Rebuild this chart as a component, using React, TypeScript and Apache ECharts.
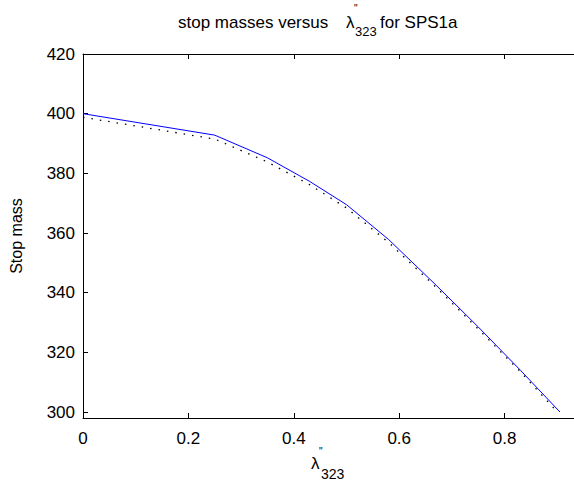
import React, { useEffect, useRef } from "react";
import * as echarts from "echarts";

const lambdaBlue = [0, 0.25, 0.35, 0.43, 0.5, 0.58, 0.67, 0.75, 0.83, 0.905];
const massBlue = [400, 392.8, 385.2, 377.3, 369.5, 357.8, 342.5, 328.5, 314, 300];
const lambdaDot = [0, 0.25, 0.35, 0.43, 0.5, 0.58, 0.67, 0.75, 0.83, 0.9];
const massDot = [398.8, 391.5, 383.8, 376.2, 368.4, 356.8, 341.8, 327.8, 313.5, 300];
const xTickLabels = [0, 0.2, 0.4, 0.6, 0.8];
const xTicks = [0, 0.2, 0.4, 0.6, 0.8];
const yTicks = [300, 320, 340, 360, 380, 400, 420];

const FONT = "'Liberation Sans', Arial, Helvetica, sans-serif";

export default function App() {
  const ref = useRef<HTMLDivElement>(null);
  useEffect(() => {
    if (!ref.current) return;
    const chart = echarts.init(ref.current, undefined, { renderer: "svg" });
    const axisCommon = {
      axisLine: { show: true, lineStyle: { color: "#000", width: 1 } },
      splitLine: { show: false },
    };
    chart.setOption({
      animation: false,
      backgroundColor: "#fff",
      textStyle: { fontFamily: FONT },
      grid: { left: 77, top: 54, right: 0, height: 364, containLabel: false },
      xAxis: [
        {
          type: "value",
          min: 0,
          max: 0.9316,
          position: "bottom",
          ...axisCommon,
          axisTick: { show: true, inside: true, length: 5, customValues: xTicks, lineStyle: { color: "#000" } },
          axisLabel: {
            customValues: xTickLabels,
            color: "#000",
            fontSize: 17,
            fontFamily: FONT,
            margin: 12,
            formatter: (v: number) => String(v),
          },
        },
        {
          type: "value",
          min: 0,
          max: 0.9316,
          position: "top",
          ...axisCommon,
          axisTick: { show: true, inside: true, length: 5, customValues: xTicks, lineStyle: { color: "#000" } },
          axisLabel: { show: false },
        },
      ],
      yAxis: [
        {
          type: "value",
          min: 298,
          max: 420,
          position: "left",
          ...axisCommon,
          axisTick: { show: true, inside: true, length: 5, customValues: yTicks, lineStyle: { color: "#000" } },
          axisLabel: {
            customValues: yTicks,
            color: "#000",
            fontSize: 17,
            fontFamily: FONT,
            margin: 8,
          },
          name: "Stop mass",
          nameLocation: "middle",
          nameGap: 59,
          nameTextStyle: { color: "#000", fontSize: 16, fontFamily: FONT },
        },
      ],
      graphic: [
        { type: "text", x: 178, y: 14, style: { text: "stop masses versus", fontSize: 17, fontFamily: FONT, fill: "#000" } },
        { type: "text", x: 346, y: 14, style: { text: "λ", fontSize: 17, fontFamily: FONT, fill: "#000" } },
        { type: "text", x: 354, y: 3, style: { text: "\"", fontSize: 10, fontFamily: FONT, fill: "#000" } },
        { type: "text", x: 355, y: 25, style: { text: "323", fontSize: 13, fontFamily: FONT, fill: "#000" } },
        { type: "text", x: 380, y: 14, style: { text: "for SPS1a", fontSize: 17, fontFamily: FONT, fill: "#000" } },
        { type: "text", x: 311, y: 455, style: { text: "λ", fontSize: 17, fontFamily: FONT, fill: "#000" } },
        { type: "text", x: 319, y: 446, style: { text: "\"", fontSize: 10, fontFamily: FONT, fill: "#000" } },
        { type: "text", x: 321, y: 467, style: { text: "323", fontSize: 14, fontFamily: FONT, fill: "#000" } },
      ],
      series: [
        {
          type: "line",
          xAxisIndex: 0,
          yAxisIndex: 0,
          data: lambdaBlue.map((x, i) => [x, massBlue[i]]),
          showSymbol: false,
          symbol: "none",
          lineStyle: { color: "#0000ff", width: 1 },
          z: 3,
        },
        {
          type: "line",
          xAxisIndex: 0,
          yAxisIndex: 0,
          data: lambdaDot.map((x, i) => [x, massDot[i]]),
          showSymbol: false,
          symbol: "none",
          lineStyle: { color: "#000", width: 1.3, type: [1.5, 7] },
          z: 2,
        },
      ],
    });
    return () => chart.dispose();
  }, []);
  return (
    <div
      ref={ref}
      style={{ position: "fixed", left: 0, top: 0, width: 574, height: 481, background: "#fff" }}
    />
  );
}
